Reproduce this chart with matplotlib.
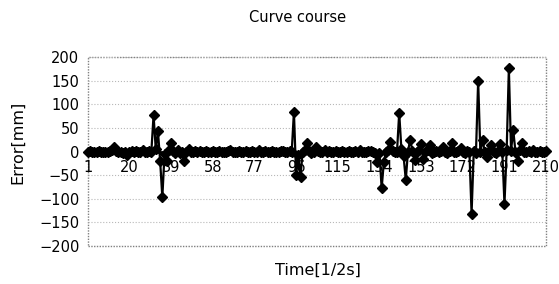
import numpy as np
from matplotlib import pyplot as plt
from matplotlib.patches import Rectangle

# error per time step (1..210)
error = [
    0, 1, 0, -1, 0, 2, 0, 0, -1, 0,
    1, 3, 10, 2, 0, -2, -4, -2, -7, 0,
    1, 0, 2, -1, 0, 3, 0, -2, 1, 0,
    77, 5, 43, -20, -97, -5, -20, 3, 17, 2,
    -3, 4, -4, 0, -21, 0, 5, 0, -1, 1,
    0, 2, 0, -2, 1, 0, 0, 1, -1, 0,
    2, 0, -1, 0, 1, 3, 0, -2, 0, 1,
    0, -1, 2, 0, 0, 1, -2, 0, 3, 0,
    0, 2, -1, 0, 1, 0, -2, 0, 2, 1,
    0, -1, 2, 0, 84, -50, -8, -53, 0, 3,
    17, 2, -3, 0, 10, 1, -2, 0, 3, 0,
    1, -1, 0, 2, 0, -2, 1, 0, 0, 2,
    -1, 0, 1, 0, 3, 0, -2, 0, 1, 2,
    0, -3, -22, -3, -78, -22, 0, 3, 21, 2,
    -2, 0, 82, 5, -10, -60, 0, 25, 2, -17,
    0, 4, 15, -15, 2, 3, 14, -3, 0, 2,
    -2, 1, 10, 0, -3, 2, 18, 0, -2, 1,
    7, 0, -3, 2, 0, -132, 2, -3, 150, 0,
    24, 0, -11, 2, 14, 0, -3, 2, 15, 0,
    -111, 3, 176, 2, 45, 0, -20, 3, 17, 0,
    -2, 1, 0, 3, -1, 0, 2, -2, 0, 1,
]
time = np.arange(1, len(error) + 1)
xticks = [1, 20, 39, 58, 77, 96, 115, 134, 153, 172, 191, 210]
yticks = [-200, -150, -100, -50, 0, 50, 100, 150, 200]

plt.rcParams['font.family'] = 'DejaVu Sans'
fig = plt.figure(figsize=(5.59, 2.84), dpi=100)
ax = fig.add_axes([0.157, 0.134, 0.82, 0.665])

ax.plot(time, error, color="black", lw=1.6, marker="D", ms=5.5,
        clip_on=False, zorder=3)

ax.set_xlim(1, 210)
ax.set_ylim(-200, 200)
ax.set_yticks(yticks)
ax.set_xticks(xticks)
ax.tick_params(axis="both", labelsize=10.5, length=0)
ax.tick_params(axis="x", pad=6)
ax.tick_params(axis="y", pad=6)
ax.yaxis.grid(True, linestyle=":", color="0.72", lw=0.8)

for s in ["top", "right", "left"]:
    ax.spines[s].set_visible(False)
ax.spines["bottom"].set_position(("data", 0))
ax.spines["bottom"].set_color("black")
ax.spines["bottom"].set_linewidth(2)
ax.add_patch(Rectangle((0, 0), 1, 1, transform=ax.transAxes, fill=False,
                       ec="0.5", lw=1.0, ls=(0, (1, 1)), clip_on=False))

fig.text(298 / 559, 1 - 18 / 284, "Curve course", ha="center", va="center",
         fontsize=10.5)
fig.text(18 / 559, 0.5, "Error[mm]", rotation=90, ha="center", va="center",
         fontsize=11.5)
fig.text(318 / 559, 1 - 270 / 284, "Time[1/2s]", ha="center", va="center",
         fontsize=11.5)

fig.savefig("out.png", dpi=100)
